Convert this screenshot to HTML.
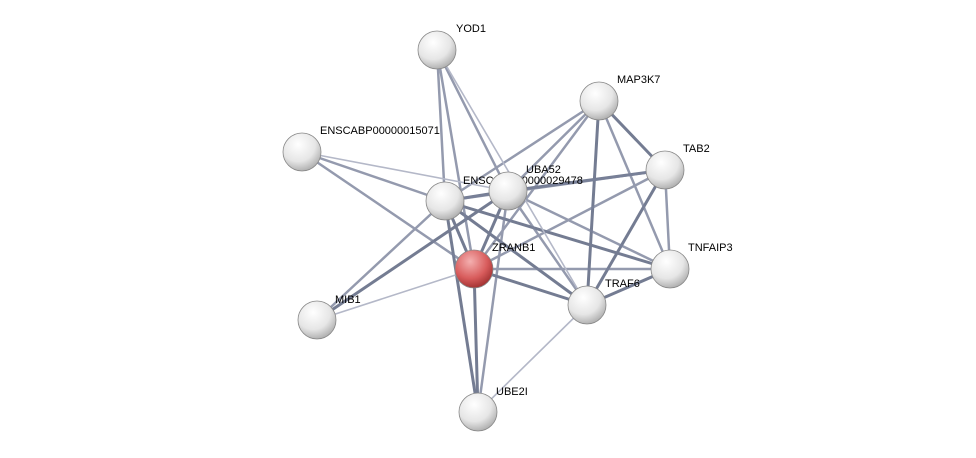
<!DOCTYPE html>
<html><head><meta charset="utf-8"><style>
html,body{margin:0;padding:0;background:#fff;width:976px;height:458px;overflow:hidden}
svg text{font-family:"Liberation Sans",sans-serif;font-size:11px;fill:#000}
</style></head><body>
<svg width="976" height="458" viewBox="0 0 976 458" xmlns="http://www.w3.org/2000/svg">
<defs>
<radialGradient id="g" cx="0.4" cy="0.3" r="0.75">
<stop offset="0" stop-color="#ffffff"/><stop offset="0.6" stop-color="#e6e6e6"/><stop offset="1" stop-color="#a8a8a8"/>
</radialGradient>
<radialGradient id="r" cx="0.4" cy="0.3" r="0.75">
<stop offset="0" stop-color="#f4b0b0"/><stop offset="0.6" stop-color="#d85c5c"/><stop offset="1" stop-color="#9a2c2c"/>
</radialGradient>
</defs>
<g stroke-linecap="round">
<g stroke="#5c6680" stroke-width="3" opacity="0.85">
<line x1="599" y1="101" x2="665" y2="170"/>
<line x1="599" y1="101" x2="587" y2="305"/>
<line x1="665" y1="170" x2="508" y2="191"/>
<line x1="445" y1="201" x2="474" y2="269"/>
<line x1="445" y1="201" x2="508" y2="191"/>
<line x1="445" y1="201" x2="587" y2="305"/>
<line x1="508" y1="191" x2="474" y2="269"/>
<line x1="474" y1="269" x2="587" y2="305"/>
<line x1="474" y1="269" x2="478" y2="412"/>
<line x1="445" y1="201" x2="478" y2="412"/>
<line x1="665" y1="170" x2="587" y2="305"/>
<line x1="587" y1="305" x2="670" y2="269"/>
<line x1="508" y1="191" x2="317" y2="320"/>
<line x1="445" y1="201" x2="670" y2="269"/>
</g>
<g stroke="#7a829a" stroke-width="2.5" opacity="0.8">
<line x1="437" y1="50" x2="445" y2="201"/>
<line x1="437" y1="50" x2="474" y2="269"/>
<line x1="437" y1="50" x2="508" y2="191"/>
<line x1="599" y1="101" x2="445" y2="201"/>
<line x1="599" y1="101" x2="508" y2="191"/>
<line x1="599" y1="101" x2="670" y2="269"/>
<line x1="599" y1="101" x2="474" y2="269"/>
<line x1="302" y1="152" x2="445" y2="201"/>
<line x1="302" y1="152" x2="474" y2="269"/>
<line x1="665" y1="170" x2="670" y2="269"/>
<line x1="665" y1="170" x2="474" y2="269"/>
<line x1="665" y1="170" x2="445" y2="201"/>
<line x1="445" y1="201" x2="317" y2="320"/>
<line x1="508" y1="191" x2="587" y2="305"/>
<line x1="508" y1="191" x2="478" y2="412"/>
<line x1="508" y1="191" x2="670" y2="269"/>
<line x1="474" y1="269" x2="670" y2="269"/>
</g>
<g stroke="#b4b8c8" stroke-width="1.6">
<line x1="437" y1="50" x2="587" y2="305"/>
<line x1="302" y1="152" x2="508" y2="191"/>
<line x1="474" y1="269" x2="317" y2="320"/>
<line x1="587" y1="305" x2="478" y2="412"/>
</g>
</g>
<g stroke="#888" stroke-width="0.8">
<circle cx="437" cy="50" r="19" fill="url(#g)"/>
<circle cx="599" cy="101" r="19" fill="url(#g)"/>
<circle cx="302" cy="152" r="19" fill="url(#g)"/>
<circle cx="665" cy="170" r="19" fill="url(#g)"/>
<circle cx="445" cy="201" r="19" fill="url(#g)"/>
<circle cx="670" cy="269" r="19" fill="url(#g)"/>
<circle cx="587" cy="305" r="19" fill="url(#g)"/>
<circle cx="317" cy="320" r="19" fill="url(#g)"/>
<circle cx="478" cy="412" r="19" fill="url(#g)"/>
<circle cx="474" cy="269" r="19" fill="url(#r)"/>
</g>
<text x="463" y="184">ENSCABP00000029478</text>
<circle cx="508" cy="191" r="19" fill="url(#g)" stroke="#888" stroke-width="0.8"/>
<text x="456" y="32">YOD1</text>
<text x="617" y="83">MAP3K7</text>
<text x="320" y="134">ENSCABP00000015071</text>
<text x="683" y="152">TAB2</text>
<text x="526" y="173">UBA52</text>
<text x="492" y="251">ZRANB1</text>
<text x="688" y="251">TNFAIP3</text>
<text x="605" y="287">TRAF6</text>
<text x="335" y="303">MIB1</text>
<text x="496" y="395">UBE2I</text>
</svg>
</body></html>
